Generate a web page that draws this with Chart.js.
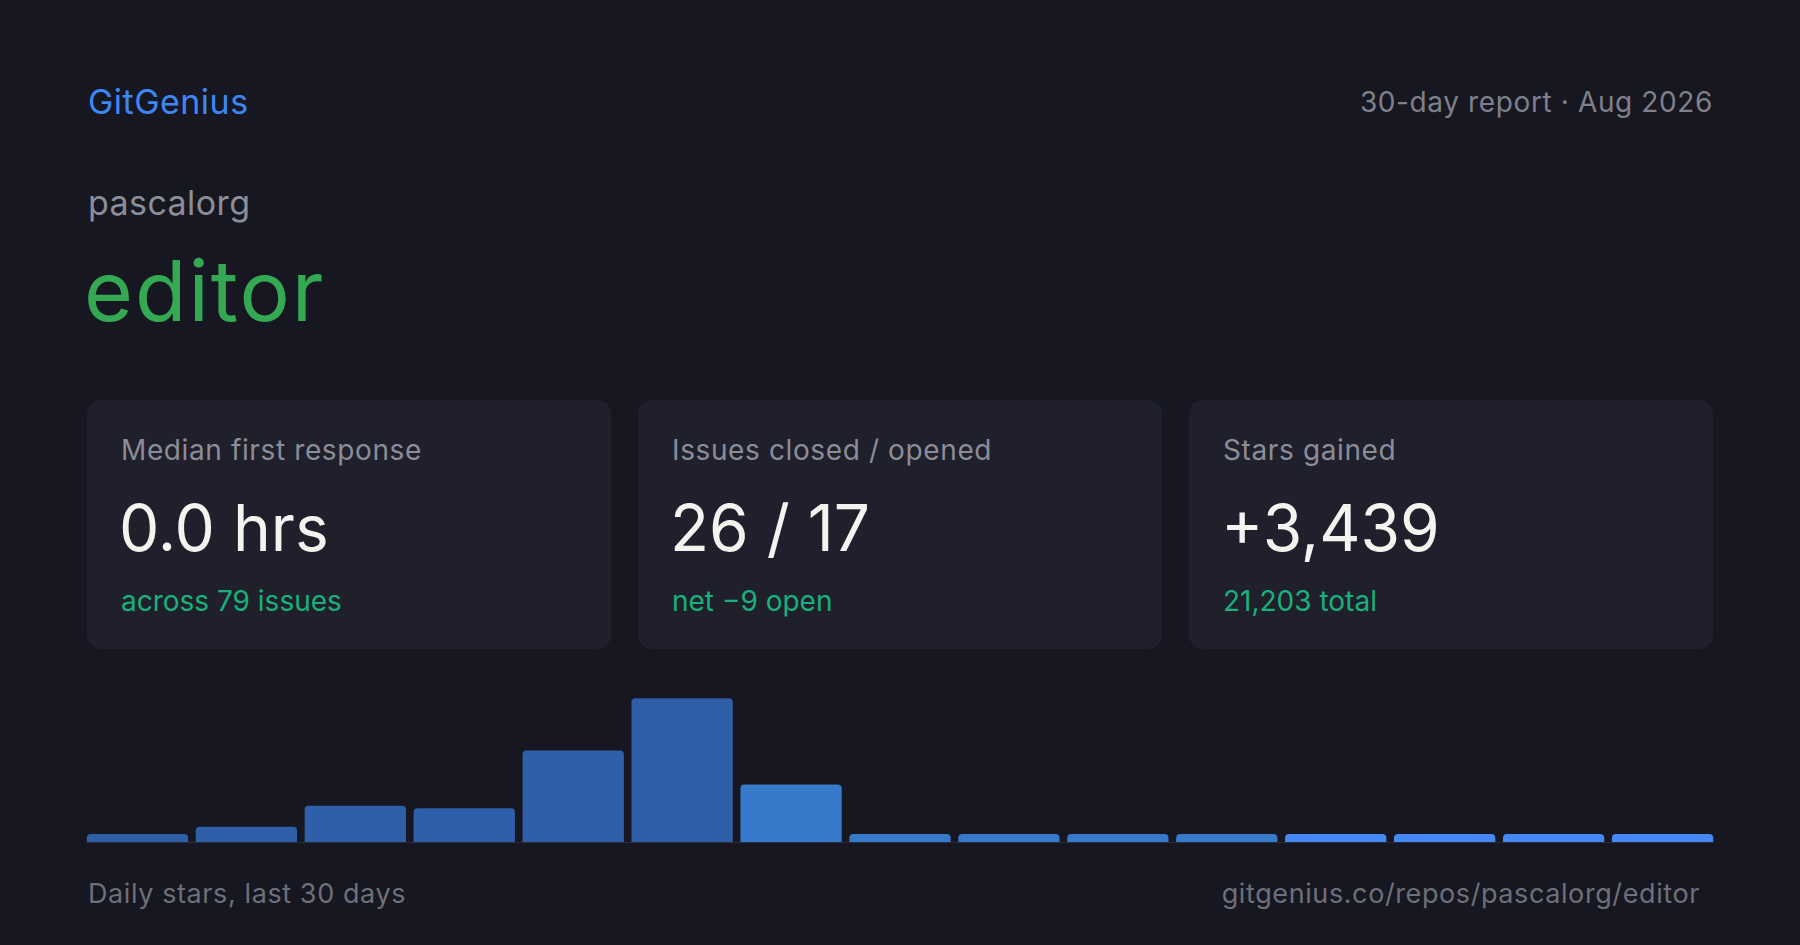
<!DOCTYPE html>
<html>
<head>
<meta charset="utf-8">
<title>GitGenius report - pascalorg/editor</title>
<script src="https://cdn.jsdelivr.net/npm/chart.js@4.4.1/dist/chart.umd.min.js"></script>
<style>
  html, body {
    margin: 0;
    padding: 0;
    width: 1800px;
    height: 945px;
    background: #161720;
    overflow: hidden;
    font-family: 'Inter', 'Noto Sans', sans-serif;
  }
  .txt {
    position: absolute;
    line-height: 1;
    white-space: nowrap;
    letter-spacing: 0.022em;
  }
  .card {
    position: absolute;
    top: 400px;
    width: 524px;
    height: 249px;
    background: #1f202c;
    border-radius: 14px;
  }
  .card .label { left: 34px; top: 36px; font-size: 28px; color: #8b8d98; }
  .card .value { left: 32px; top: 96px; font-size: 64px; color: #f3f3ef; letter-spacing: 0; }
  .card .sub   { left: 34px; top: 187px; font-size: 28px; color: #18b07b; letter-spacing: 0; }
  #chartBox {
    position: absolute;
    left: 83px;
    top: 698px;
    width: 1634px;
    height: 145px;
  }
</style>
</head>
<body>

<div class="txt" style="left:88px; top:85px; font-size:34px; color:#3f86f5; letter-spacing:0.014em;">GitGenius</div>
<div class="txt" style="right:87px; top:88px; font-size:28px; color:#7e808b;">30-day report · Aug 2026</div>
<div class="txt" style="left:88px; top:186px; font-size:34px; color:#8b8d98; letter-spacing:0.012em;">pascalorg</div>
<div class="txt" style="left:84px; top:249px; font-size:84px; color:#34a853; letter-spacing:0.024em;">editor</div>

<div id="cards"></div>

<div id="chartBox"><canvas id="starsChart"></canvas></div>

<div class="txt" style="left:88px; top:880px; font-size:27px; color:#6d6f7a;">Daily stars, last 30 days</div>
<div class="txt" style="right:100px; top:880px; font-size:27px; color:#6d6f7a;">gitgenius.co/repos/pascalorg/editor</div>

<script>
// --- Data ---

const cardLabels = ['Median first response', 'Issues closed / opened', 'Stars gained'];
const cardValues = ['0.0 hrs', '26 / 17', '+3,439'];
const cardSubs = ['across 79 issues', 'net \u22129 open', '21,203 total'];

// 15 two-day buckets over the last 30 days
const buckets = ['1-2', '3-4', '5-6', '7-8', '9-10', '11-12', '13-14', '15-16',
                 '17-18', '19-20', '21-22', '23-24', '25-26', '27-28', '29-30'];
const starsPerBucket = [67, 119, 275, 257, 683, 1069, 431, 67, 67, 67, 67, 67, 67, 67, 67];

// --- Cards ---

const cardLefts = [87, 638, 1189];
const cardsEl = document.getElementById('cards');
cardLabels.forEach((label, i) => {
    const card = document.createElement('div');
    card.className = 'card';
    card.style.left = cardLefts[i] + 'px';
    card.innerHTML =
        `<div class="txt label">${label}</div>` +
        `<div class="txt value">${cardValues[i]}</div>` +
        `<div class="txt sub">${cardSubs[i]}</div>`;
    cardsEl.appendChild(card);
});

// --- Bar colours: older buckets dimmer, most recent brightest ---

function barColour(i) {
    if (i < 6) return '#2f5fa8';
    if (i < 11) return '#3779cb';
    return '#4589f5';
}

// --- Baseline under the bars ---

const baselinePlugin = {
    id: 'baseline',
    afterDatasetsDraw(chart) {
        const meta = chart.getDatasetMeta(0);
        const first = meta.data[0];
        const last = meta.data[meta.data.length - 1];
        const ctx = chart.ctx;
        const y = chart.chartArea.bottom;
        ctx.save();
        ctx.strokeStyle = '#2b2d3a';
        ctx.lineWidth = 2;
        ctx.beginPath();
        ctx.moveTo(first.x - first.width / 2, y);
        ctx.lineTo(last.x + last.width / 2, y);
        ctx.stroke();
        ctx.restore();
    }
};

// --- Chart ---

const ctx = document.getElementById('starsChart').getContext('2d');
new Chart(ctx, {
    type: 'bar',
    data: {
        labels: buckets,
        datasets: [{
            label: 'Stars',
            data: starsPerBucket,
            backgroundColor: starsPerBucket.map((v, i) => barColour(i)),
            borderWidth: 0,
            borderRadius: { topLeft: 4, topRight: 4, bottomLeft: 0, bottomRight: 0 },
            borderSkipped: 'bottom',
            barPercentage: 1,
            categoryPercentage: 0.93
        }]
    },
    options: {
        responsive: true,
        maintainAspectRatio: false,
        animation: false,
        layout: { padding: 0 },
        scales: {
            x: { display: false },
            y: { display: false, min: 0, max: 1070 }
        },
        plugins: {
            legend: { display: false },
            tooltip: { enabled: false }
        }
    },
    plugins: [baselinePlugin]
});
</script>
</body>
</html>
